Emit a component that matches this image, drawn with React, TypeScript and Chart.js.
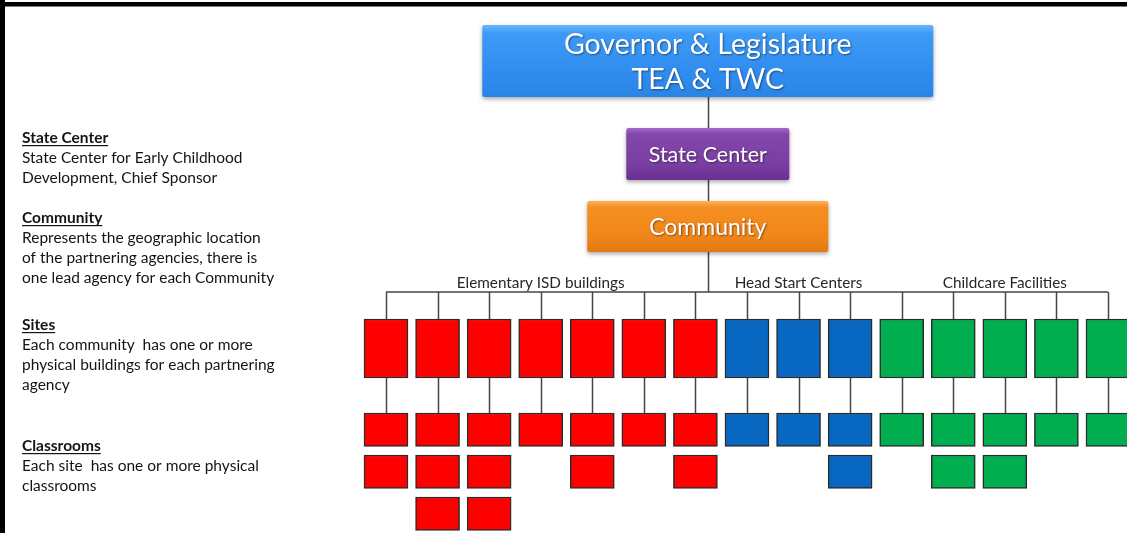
import React, { useEffect, useRef } from "react";
import { Chart, registerables } from "chart.js";

Chart.register(...registerables);

// ---------------- DATA ----------------
const topNodes = ["Governor & Legislature\nTEA & TWC", "State Center", "Community"];
const groupNames = ["Elementary ISD buildings", "Head Start Centers", "Childcare Facilities"];
// classrooms per site, for each partnering agency group
const elementaryRooms = [2, 3, 3, 1, 2, 1, 2];
const headStartRooms = [1, 1, 2];
const childcareRooms = [1, 2, 2, 1, 1];
const legendTitles = ["State Center", "Community", "Sites", "Classrooms"];
const legendTexts = [
  ["State Center for Early Childhood", "Development, Chief Sponsor"],
  ["Represents the geographic location", "of the partnering agencies, there is", "one lead agency for each Community"],
  ["Each community  has one or more", "physical buildings for each partnering", "agency"],
  ["Each site  has one or more physical", "classrooms"],
];

// ---------------- STYLE / LAYOUT ----------------
const GROUP_COLORS = ["#ff0000", "#0867c0", "#00ad4f"];
const BOX_BORDER = "#2b2b2b";
const LINE_COLOR = "#454545";
const FONT = "Lato, 'Open Sans', sans-serif";
const L = {
  topX: 6.24,
  gov: { w: 451, y0: 25, y1: 97 },
  state: { w: 163, y0: 128, y1: 180 },
  community: { w: 241, y0: 201, y1: 252 },
  busY: 292,
  labelY: 283,
  site: { y0: 319, y1: 378 },
  room: { y0: 413, h: 33.5, step: 42 },
  barWidth: 44,
  legendX: 22,
  legendTitleY: [143, 223, 330, 451],
  legendLine: 20,
};

const groups = [elementaryRooms, headStartRooms, childcareRooms];
const sites: { g: number; rooms: number }[] = [];
groups.forEach((arr, g) => arr.forEach((rooms) => sites.push({ g, rooms })));
const maxRooms = Math.max(...sites.map((s) => s.rooms));

function roundRectPath(ctx: CanvasRenderingContext2D, x: number, y: number, w: number, h: number, r: number) {
  ctx.beginPath();
  ctx.moveTo(x + r, y);
  ctx.lineTo(x + w - r, y);
  ctx.quadraticCurveTo(x + w, y, x + w, y + r);
  ctx.lineTo(x + w, y + h - r);
  ctx.quadraticCurveTo(x + w, y + h, x + w - r, y + h);
  ctx.lineTo(x + r, y + h);
  ctx.quadraticCurveTo(x, y + h, x, y + h - r);
  ctx.lineTo(x, y + r);
  ctx.quadraticCurveTo(x, y, x + r, y);
  ctx.closePath();
}

const TOP_STYLES = [
  { stops: ["#6ab6ff", "#3d9af6", "#2f8cee", "#2a84e6"], font: 28.5, lineH: 35 },
  { stops: ["#a468c9", "#8347ab", "#7a3ea2", "#6a2f92"], font: 21.5, lineH: 24 },
  { stops: ["#fcb25a", "#f58e22", "#f0861a", "#e27a12"], font: 23, lineH: 24 },
];

const diagramPlugin = {
  id: "diagram",
  beforeDatasetsDraw(chart: any) {
    const ctx: CanvasRenderingContext2D = chart.ctx;
    const xs = chart.scales.x;
    const ys = chart.scales.y;
    const X = (v: number) => xs.getPixelForValue(v);
    const Y = (v: number) => ys.getPixelForValue(v);
    ctx.save();
    ctx.strokeStyle = LINE_COLOR;
    ctx.lineWidth = 1.5;
    const seg = (x0: number, y0: number, x1: number, y1: number) => {
      ctx.beginPath();
      ctx.moveTo(x0, y0);
      ctx.lineTo(x1, y1);
      ctx.stroke();
    };
    const cx = Math.round(X(L.topX)) + 0.5;
    seg(cx, Y(L.gov.y1), cx, Y(L.state.y0));
    seg(cx, Y(L.state.y1), cx, Y(L.community.y0));
    seg(cx, Y(L.community.y1), cx, Y(L.busY));
    seg(X(0), Y(L.busY), X(sites.length - 1), Y(L.busY));
    sites.forEach((s, i) => {
      const x = Math.round(X(i)) + 0.5;
      seg(x, Y(L.busY), x, Y(L.site.y0));
      if (s.rooms > 0) seg(x, Y(L.site.y1), x, Y(L.room.y0));
    });
    ctx.restore();
  },
  afterDatasetsDraw(chart: any) {
    const ctx: CanvasRenderingContext2D = chart.ctx;
    const xs = chart.scales.x;
    const ys = chart.scales.y;
    const X = (v: number) => xs.getPixelForValue(v);
    const Y = (v: number) => ys.getPixelForValue(v);
    ctx.save();

    // top hierarchy boxes
    const boxes = [L.gov, L.state, L.community];
    const cx = X(L.topX);
    boxes.forEach((b, k) => {
      const st = TOP_STYLES[k];
      const x0 = cx - b.w / 2;
      const y0 = Y(b.y0);
      const h = Y(b.y1) - y0;
      ctx.save();
      ctx.shadowColor = "rgba(0,0,0,0.35)";
      ctx.shadowBlur = 4;
      ctx.shadowOffsetY = 2;
      const gr = ctx.createLinearGradient(0, y0, 0, y0 + h);
      gr.addColorStop(0, st.stops[0]);
      gr.addColorStop(0.12, st.stops[1]);
      gr.addColorStop(0.7, st.stops[2]);
      gr.addColorStop(1, st.stops[3]);
      ctx.fillStyle = gr;
      roundRectPath(ctx, x0, y0, b.w, h, 2);
      ctx.fill();
      ctx.restore();
      // text
      const lines = topNodes[k].split("\n");
      ctx.save();
      ctx.font = `${st.font}px ${FONT}`;
      ctx.fillStyle = "#ffffff";
      ctx.textAlign = "center";
      ctx.textBaseline = "middle";
      ctx.shadowColor = "rgba(0,0,0,0.45)";
      ctx.shadowBlur = 2;
      ctx.shadowOffsetX = 1;
      ctx.shadowOffsetY = 1;
      const midY = y0 + h / 2 + 1;
      lines.forEach((t, j) => {
        const ty = midY + (j - (lines.length - 1) / 2) * st.lineH;
        ctx.fillText(t, cx, ty);
      });
      ctx.restore();
    });

    // group labels
    ctx.font = `15.3px ${FONT}`;
    ctx.fillStyle = "#262626";
    ctx.textAlign = "center";
    ctx.textBaseline = "middle";
    let start = 0;
    groups.forEach((arr, g) => {
      const mid = start + (arr.length - 1) / 2;
      ctx.fillText(groupNames[g], X(mid), Y(L.labelY));
      start += arr.length;
    });

    // left legend
    ctx.textAlign = "left";
    ctx.textBaseline = "alphabetic";
    ctx.fillStyle = "#141414";
    legendTitles.forEach((title, k) => {
      const by = L.legendTitleY[k];
      ctx.font = `bold 15.5px ${FONT}`;
      ctx.fillText(title, L.legendX, by);
      const w = ctx.measureText(title).width;
      ctx.fillRect(L.legendX, by + 2, w, 1.2);
      ctx.font = `15.5px ${FONT}`;
      legendTexts[k].forEach((t, j) => {
        ctx.fillText(t, L.legendX, by + (j + 1) * L.legendLine);
      });
    });

    // frame
    ctx.fillStyle = "#000";
    ctx.fillRect(0, 2, chart.width, 4.5);
    ctx.fillRect(0, 0, 5, chart.height);
    ctx.restore();
  },
};

export default function App() {
  const ref = useRef<HTMLCanvasElement | null>(null);
  useEffect(() => {
    if (!ref.current) return;
    const colorOf = (c: any) => GROUP_COLORS[c.raw ? c.raw.g : 0];
    const datasets: any[] = [
      {
        label: "Sites",
        data: sites.map((s, i) => ({ x: i, y: [L.site.y0, L.site.y1], g: s.g })),
        backgroundColor: colorOf,
      },
    ];
    for (let r = 0; r < maxRooms; r++) {
      const data: any[] = [];
      sites.forEach((s, i) => {
        if (s.rooms > r) {
          const y0 = L.room.y0 + r * L.room.step;
          data.push({ x: i, y: [y0, y0 + L.room.h], g: s.g });
        }
      });
      datasets.push({ label: `Classrooms ${r + 1}`, data, backgroundColor: colorOf });
    }
    const chart = new Chart(ref.current, {
      type: "bar",
      data: { datasets },
      options: {
        animation: false,
        responsive: true,
        maintainAspectRatio: false,
        events: [],
        layout: { padding: 0 },
        datasets: {
          bar: {
            grouped: false,
            barThickness: L.barWidth,
            borderWidth: 1.5,
            borderColor: BOX_BORDER,
            borderSkipped: false,
          },
        },
        plugins: { legend: { display: false }, tooltip: { enabled: false }, title: { display: false } },
        scales: {
          x: {
            type: "linear",
            display: false,
            offset: false,
            min: -7.485,
            max: 14.369,
            bounds: "data",
          },
          y: {
            type: "linear",
            display: false,
            reverse: true,
            min: 0,
            max: 533,
            beginAtZero: false,
          },
        },
      },
      plugins: [diagramPlugin],
    } as any);
    return () => chart.destroy();
  }, []);
  return (
    <div style={{ position: "absolute", left: 0, top: 0, width: 1127, height: 533, background: "#fff" }}>
      <canvas ref={ref} />
    </div>
  );
}
